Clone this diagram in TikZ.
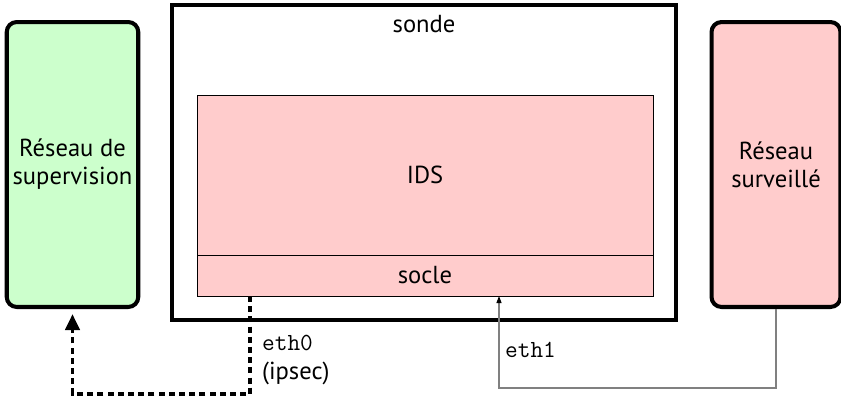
\documentclass[tikz,border=0pt]{standalone}
\usepackage{fontspec}
\setmainfont{PT Sans}
\usetikzlibrary{arrows.meta}
\definecolor{vertclair}{RGB}{204,255,204}
\definecolor{roseclair}{RGB}{255,204,204}
\begin{document}
\begin{tikzpicture}[x=0.02cm,y=-0.02cm,
        font=\fontsize{14}{16}\selectfont,
        reseau/.style={draw,rounded corners=0.2cm,line width=2.3pt,minimum width=2.58cm,minimum height=5.7cm,align=center},
        bloc/.style={draw,fill=roseclair,line width=0.5pt,minimum width=9.12cm},
        lien/.style={line width=2.2pt,dash pattern=on 3.4pt off 2.4pt,shorten >=0.1cm,-{Triangle[length=0.32cm,width=0.28cm]}},
        capture/.style={gray,line width=0.6pt,-{Triangle[length=0.14cm,width=0.1cm,black]}}]
        \useasboundingbox (0,0) rectangle (841,397);
        \node[draw,line width=2.3pt,minimum width=10.08cm,minimum height=6.3cm] (sonde) at (424,162.5) {};
        \node[anchor=base] (titre) at (424,32) {sonde};
        \node[bloc,minimum height=3.2cm] (ids) at (425,175) {IDS};
        \node[bloc,minimum height=0.82cm] (socle) at (425,275.5) {socle};
        \node[reseau,fill=vertclair] (supervision) at (72.5,164.5) {Réseau de\\supervision};
        \node[reseau,fill=roseclair] (surveille) at (776,164.5) {Réseau\\surveillé};
        \coordinate (eth0) at (250,296);
        \coordinate (coude0) at (72.5,394);
        \draw[lien] (eth0) |- (coude0) -- (supervision.south);
        \coordinate (eth1) at (499,296);
        \coordinate (coude1) at (499,388);
        \draw[capture] (surveille.south) |- (coude1) -- (eth1);
        \node[anchor=west,align=left] (eth0lbl) at (256,360) {\texttt{eth0}\\(ipsec)};
        \node[anchor=west] (eth1lbl) at (499,350) {\texttt{eth1}};
    \end{tikzpicture}
\end{document}
